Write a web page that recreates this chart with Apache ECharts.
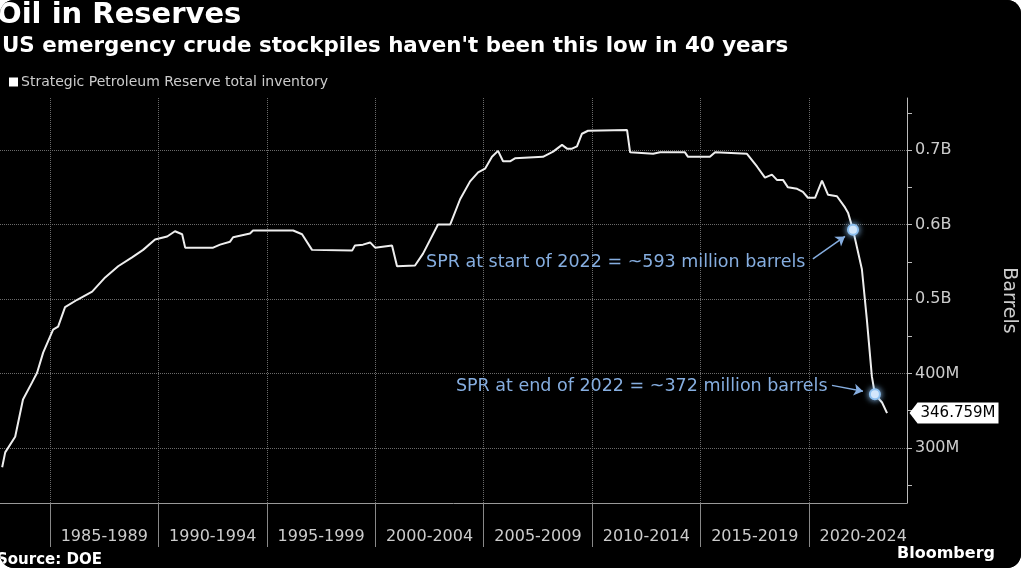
<!DOCTYPE html>
<html>
<head>
<meta charset="utf-8">
<script src="https://cdn.jsdelivr.net/npm/echarts@6/dist/echarts.min.js"></script>
<style>
  html, body { margin: 0; padding: 0; background: #fff; }
  #card {
    position: absolute; left: 0; top: 0;
    width: 1021px; height: 568px;
    background: #000; border-radius: 14px; overflow: hidden;
  }
  #myChart { width: 1021px; height: 568px; }
</style>
</head>
<body>
<div id="card"><div id="myChart"></div></div>
<script>
// SPR total inventory (year, million barrels)
var years = [1982.79, 1982.93, 1983.39, 1983.75, 1984.17, 1984.4, 1984.68, 1985.14, 1985.37, 1985.69,
  1986.25, 1986.94, 1987.54, 1988.14, 1988.78, 1989.29, 1989.84, 1990.4, 1990.76, 1991.09,
  1991.23, 1992.52, 1992.84, 1993.3, 1993.44, 1994.22, 1994.36, 1996.21, 1996.62, 1997.08,
  1998.93, 1999.06, 1999.43, 1999.76, 1999.99, 2000.77, 2001.0, 2001.83, 2002.2, 2002.89,
  2003.45, 2003.91, 2004.37, 2004.74, 2005.06, 2005.38, 2005.66, 2005.89, 2006.21, 2006.44,
  2007.73, 2008.2, 2008.61, 2008.84, 2009.07, 2009.3, 2009.53, 2009.81, 2011.61, 2011.75,
  2012.81, 2013.13, 2014.28, 2014.42, 2015.43, 2015.67, 2017.14, 2017.6, 2017.97, 2018.29,
  2018.52, 2018.8, 2019.03, 2019.45, 2019.72, 2019.95, 2020.28, 2020.6, 2020.88, 2021.29,
  2021.66, 2021.8, 2022.03, 2022.44, 2022.67, 2022.9, 2023.04, 2023.37, 2023.6];
var barrels = [274, 294, 315, 365, 388, 401, 428, 459, 463, 489,
  499, 510, 529, 544, 556, 566, 580, 584, 591, 587,
  569, 569, 573, 577, 583, 588, 592, 592, 587, 566,
  565, 572, 573, 576, 569, 572, 544, 545, 561, 600,
  600, 634, 658, 670, 675, 691, 699, 685, 685, 689,
  691, 698, 707, 702, 702, 705, 722, 726, 727, 697,
  695, 697, 697, 691, 691, 697, 695, 678, 663, 667,
  660, 660, 650, 648, 644, 636, 636, 659, 640, 638,
  623, 616, 593, 540, 472, 396, 372, 361, 346.759];

var periods = ["1985-1989", "1990-1994", "1995-1999", "2000-2004", "2005-2009", "2010-2014", "2015-2019", "2020-2024"];
var periodStarts = [1985, 1990, 1995, 2000, 2005, 2010, 2015, 2020];
var periodMids = [1987.5, 1992.5, 1997.5, 2002.5, 2007.5, 2012.5, 2017.5, 2022.5];
var yLabelValues = [300, 400, 500, 600, 700];
var yTickValues = [250, 300, 350, 400, 450, 500, 550, 600, 650, 700, 750];

var points = years.map(function (y, i) { return [y, barrels[i]]; });
var lastPoint = points[points.length - 1];

var font = "DejaVu Sans";
var noteBlue = "#86aee0";

var myChart = echarts.init(document.getElementById("myChart"));
var option = {
  backgroundColor: "#000",
  animation: false,
  textStyle: { fontFamily: font },
  title: [
    {
      text: "Oil in Reserves", left: -3, top: 1, padding: 0,
      textStyle: { color: "#fff", fontSize: 29, fontWeight: "bold", fontFamily: font }
    },
    {
      text: "US emergency crude stockpiles haven't been this low in 40 years", left: 2, top: 36, padding: 0,
      textStyle: { color: "#fff", fontSize: 21.4, fontWeight: "bold", fontFamily: font }
    },
    {
      text: "Source: DOE", left: -3, top: 553, padding: 0,
      textStyle: { color: "#fff", fontSize: 15, fontWeight: "bold", fontFamily: font }
    },
    {
      text: "Bloomberg", left: 897, top: 546, padding: 0,
      textStyle: { color: "#fff", fontSize: 16, fontWeight: "bold", fontFamily: font }
    }
  ],
  legend: {
    left: 9, top: 75, padding: 0,
    icon: "rect", itemWidth: 9, itemHeight: 9, itemGap: 4,
    textStyle: { color: "#ccc", fontSize: 14, fontFamily: font, padding: [0, 0, 0, -2] },
    data: ["Strategic Petroleum Reserve total inventory"]
  },
  grid: { left: 0, right: 114, top: 98, bottom: 65, outerBoundsMode: "none", containLabel: false },
  xAxis: {
    type: "value", min: 1982.69, max: 2024.52,
    axisLine: { show: true, lineStyle: { color: "#999", width: 1 } },
    axisTick: { show: true, customValues: periodStarts, length: 44, lineStyle: { color: "#888" } },
    axisLabel: {
      customValues: periodMids, color: "#ccc", fontSize: 16, margin: 26,
      formatter: function (v) { return periods[periodMids.indexOf(v)]; }
    },
    splitLine: { show: true, lineStyle: { color: "#6a6a6a", type: "dotted" } }
  },
  yAxis: [
    {
      type: "value", position: "right", min: 226, max: 770,
      name: "Barrels", nameLocation: "middle", nameRotate: -90, nameGap: 92,
      nameTextStyle: { color: "#ccc", fontSize: 19, fontFamily: font },
      axisLine: { show: true, lineStyle: { color: "#bbb", width: 1 } },
      axisTick: { show: true, customValues: yTickValues, length: 5, lineStyle: { color: "#bbb" } },
      axisLabel: {
        customValues: yLabelValues, color: "#ccc", fontSize: 16, margin: 8,
        formatter: function (v) { return v >= 500 ? (v / 1000) + "B" : v + "M"; }
      },
      splitLine: { show: false }
    },
    {
      // grid lines only, at the labelled values
      type: "value", position: "right", min: 226, max: 770,
      axisLine: { show: false }, axisLabel: { show: false },
      axisTick: { show: false, customValues: yLabelValues },
      splitLine: { show: true, lineStyle: { color: "#6a6a6a", type: "dotted" } }
    }
  ],
  series: [
    {
      name: "Strategic Petroleum Reserve total inventory",
      type: "line",
      data: points,
      showSymbol: false,
      clip: false,
      itemStyle: { color: "#fff" },
      lineStyle: { color: "#eee", width: 2 },
      markLine: {
        silent: true, symbol: ["none", "arrow"], symbolSize: 9,
        lineStyle: { color: noteBlue, width: 1.5, type: "solid" },
        label: { show: false },
        data: [
          [{ coord: [2020.18, 554] }, { coord: [2021.66, 584] }],
          [{ coord: [2021.06, 384] }, { coord: [2022.49, 376] }]
        ]
      },
      markPoint: {
        silent: true,
        data: [
          {
            coord: [2019.95, 549], symbol: "circle", symbolSize: 1,
            itemStyle: { color: "rgba(0,0,0,0)" },
            label: { show: true, position: "left", distance: 2, color: noteBlue, fontSize: 17.5,
              formatter: "SPR at start of 2022 = ~593 million barrels" }
          },
          {
            coord: [2020.97, 382.6], symbol: "circle", symbolSize: 1,
            itemStyle: { color: "rgba(0,0,0,0)" },
            label: { show: true, position: "left", distance: 2, color: noteBlue, fontSize: 17.5,
              formatter: "SPR at end of 2022 = ~372 million barrels" }
          },
          {
            coord: [2022.03, 593], symbol: "circle", symbolSize: 10,
            itemStyle: { color: "#eef6ff", borderColor: "#8ec0f0", borderWidth: 2, shadowBlur: 6, shadowColor: "#8ec0f0" },
            label: { show: false }
          },
          {
            coord: [2023.04, 372], symbol: "circle", symbolSize: 10,
            itemStyle: { color: "#eef6ff", borderColor: "#8ec0f0", borderWidth: 2, shadowBlur: 6, shadowColor: "#8ec0f0" },
            label: { show: false }
          },
          {
            coord: [2024.52, lastPoint[1]],
            symbol: "path://M0,10 L8,0 L88,0 L88,20 L8,20 Z",
            symbolSize: [89, 21], symbolOffset: [47, 0], symbolKeepAspect: false,
            itemStyle: { color: "#fff" },
            label: { show: true, position: "inside", offset: [4, 0], color: "#000", fontSize: 15,
              formatter: lastPoint[1].toFixed(3) + "M" }
          }
        ]
      }
    }
  ]
};
myChart.setOption(option);
</script>
</body>
</html>
